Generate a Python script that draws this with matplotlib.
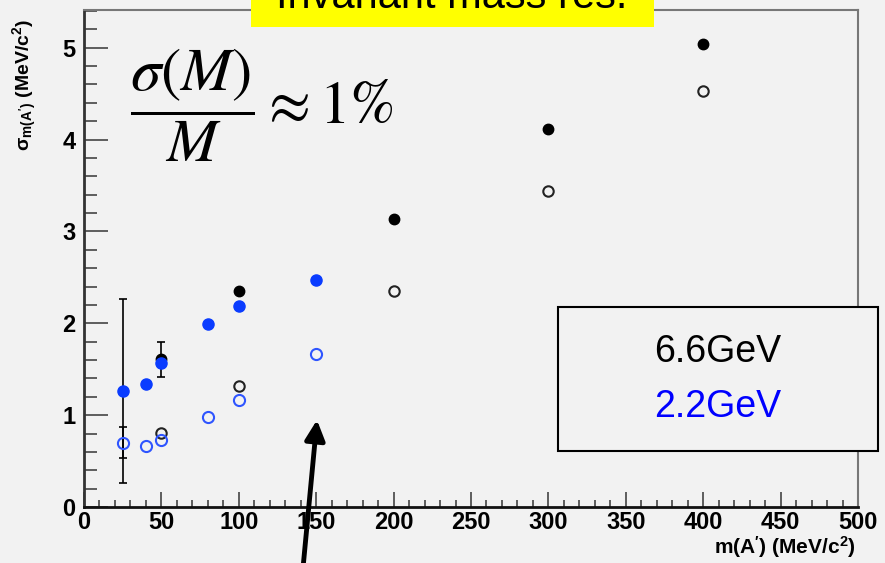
import matplotlib
matplotlib.use("Agg")
import matplotlib.pyplot as plt
from matplotlib.ticker import MultipleLocator
from matplotlib.patches import Rectangle

plt.rcParams['font.family'] = ['Liberation Sans', 'DejaVu Sans']
plt.rcParams['mathtext.fontset'] = 'custom'
plt.rcParams['mathtext.rm'] = 'Liberation Sans:bold'
plt.rcParams['mathtext.it'] = 'Liberation Sans:bold'
plt.rcParams['mathtext.bf'] = 'Liberation Sans:bold'

# 6.6 GeV beam
x_66 = [50, 100, 200, 300, 400]
y_66_full = [1.61, 2.35, 3.13, 4.12, 5.04]
y_66_open = [0.81, 1.32, 2.35, 3.44, 4.53]

# 2.2 GeV beam
x_22 = [25, 40, 50, 80, 100, 150]
y_22_full = [1.26, 1.34, 1.57, 1.99, 2.19, 2.47]
y_22_open = [0.70, 0.66, 0.73, 0.98, 1.17, 1.67]

# points carrying error bars
err_x = [25, 25, 50]
err_y = [1.26, 0.70, 1.61]
err_val = [1.00, 0.17, 0.19]

bg = '#f2f2f2'
blue = '#0a3cff'
W, H = 885, 563

fig = plt.figure(figsize=(W / 100, H / 100), dpi=100, facecolor=bg)
ax = fig.add_axes([84 / W, 1 - 507 / H, (858 - 84) / W, (507 - 10) / H], facecolor=bg)

ax.errorbar(err_x, err_y, yerr=err_val, fmt='none', ecolor='black', elinewidth=1.2,
            capsize=3, capthick=1.2, zorder=2)
ax.plot(x_66, y_66_full, 'o', color='black', ms=7.5, zorder=3)
ax.plot(x_66, y_66_open, 'o', mfc='none', mec='#222222', mew=1.5, ms=7.5, zorder=3)
ax.plot(x_22, y_22_full, 'o', color=blue, ms=8, zorder=4)
ax.plot(x_22, y_22_open, 'o', mfc='none', mec='#2f55ff', mew=1.5, ms=8, zorder=4)

ax.set_xlim(0, 500)
ax.set_ylim(0, 5.41)
ax.xaxis.set_major_locator(MultipleLocator(50))
ax.xaxis.set_minor_locator(MultipleLocator(10))
ax.yaxis.set_major_locator(MultipleLocator(1))
ax.yaxis.set_minor_locator(MultipleLocator(0.2))
ax.tick_params(axis='x', which='major', direction='in', length=11, width=1.2,
               color='#444444', labelsize=17, pad=3)
ax.tick_params(axis='x', which='minor', direction='in', length=5, width=1.2, color='#444444')
ax.tick_params(axis='y', which='major', direction='in', length=17, width=1.2,
               color='#444444', labelsize=17, pad=6)
ax.tick_params(axis='y', which='minor', direction='in', length=9, width=1.2, color='#444444')
for lab in ax.get_xticklabels() + ax.get_yticklabels():
    lab.set_fontweight('bold')

for side in ['top', 'right']:
    ax.spines[side].set_color('#777777')
    ax.spines[side].set_linewidth(1.5)
ax.spines['left'].set_color('#333333')
ax.spines['left'].set_linewidth(2)
ax.spines['bottom'].set_color('#111111')
ax.spines['bottom'].set_linewidth(2)

fig.text(856 / W, 1 - 547 / H, r"m(A$'$) (MeV/c$^{2}$)", ha='right', va='center',
         fontsize=15, fontweight='bold')
fig.text(25 / W, 1 - 85 / H, r"$\sigma_{m(A')}$ (MeV/c$^{2}$)", ha='center', va='center',
         rotation=90, fontsize=14, fontweight='bold')

# formula
fig.text(262 / W, 1 - 105 / H, r'$\dfrac{\sigma\left(M\right)}{M}\approx 1\%$',
         ha='center', va='center', fontsize=44, math_fontfamily='stix')

# yellow title box cut at top
fig.patches.append(Rectangle((251 / W, 1 - 27 / H), (654 - 251) / W, 27 / H,
                             transform=fig.transFigure, facecolor='#ffff00',
                             edgecolor='none', zorder=5))
fig.text(452 / W, 1 - 8 / H, 'Invariant mass res.', ha='center', va='baseline',
         fontsize=30, zorder=6)

# legend box
fig.patches.append(Rectangle((558 / W, 1 - 451 / H), (878 - 558) / W, (451 - 307) / H,
                             transform=fig.transFigure, facecolor=bg,
                             edgecolor='black', linewidth=1.5, zorder=5))
fig.text(718 / W, 1 - 352 / H, '6.6GeV', ha='center', va='center', fontsize=27,
         color='black', zorder=6)
fig.text(718 / W, 1 - 407 / H, '2.2GeV', ha='center', va='center', fontsize=27,
         color='#0000ff', zorder=6)

# arrow
ax.annotate('', xy=(317, H - 420), xytext=(303, -5), xycoords='figure pixels',
            textcoords='figure pixels',
            arrowprops=dict(arrowstyle='-|>', color='black', lw=3.5,
                            mutation_scale=30, shrinkA=0, shrinkB=0),
            annotation_clip=False)

fig.savefig('out.png', dpi=100, facecolor=bg)
